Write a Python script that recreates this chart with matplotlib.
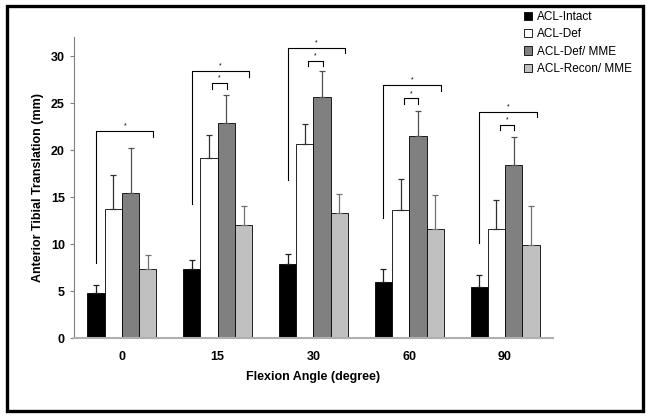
import numpy as np
import matplotlib.pyplot as plt
from matplotlib.patches import Patch, Rectangle

plt.rcParams['font.family'] = ['Liberation Sans', 'DejaVu Sans']

angles = ['0', '15', '30', '60', '90']
groups = ['ACL-Intact', 'ACL-Def', 'ACL-Def/ MME', 'ACL-Recon/ MME']

# mean translation (mm) and upper SD, per group
intact = [4.8, 7.4, 7.9, 6.0, 5.4]
intact_sd = [0.9, 0.9, 1.1, 1.4, 1.3]
deficient = [13.7, 19.2, 20.6, 13.6, 11.6]
deficient_sd = [3.6, 2.4, 2.2, 3.3, 3.1]
def_mme = [15.4, 22.9, 25.6, 21.5, 18.4]
def_mme_sd = [4.8, 3.0, 2.8, 2.7, 3.0]
recon_mme = [7.4, 12.0, 13.3, 11.6, 9.9]
recon_mme_sd = [1.4, 2.0, 2.0, 3.6, 4.1]

# significance brackets
big_top = [22.0, 28.4, 30.9, 26.9, 24.1]
big_left_end = [8.0, 14.3, 16.8, 12.8, 10.1]
small_top = [None, 27.1, 29.5, 25.5, 22.7]

means = [intact, deficient, def_mme, recon_mme]
sds = [intact_sd, deficient_sd, def_mme_sd, recon_mme_sd]
colors = ['black', 'white', '#808080', '#c0c0c0']
err_colors = ['#202020', '#303030', '#505050', '#707070']

fig = plt.figure(figsize=(6.49, 4.18), dpi=100)
ax = fig.add_axes([0.114, 0.191, 0.738, 0.72])

x = np.arange(len(angles)) + 0.5
w = 0.18
for i, (m, s) in enumerate(zip(means, sds)):
    pos = x + (i - 1.5) * w
    ax.bar(pos, m, w, color=colors[i], edgecolor='black', linewidth=0.6,
           yerr=[np.zeros(len(s)), s],
           error_kw=dict(ecolor=err_colors[i], elinewidth=0.9,
                         capsize=2.2, capthick=0.9))

lw = 0.8
for i, c in enumerate(x):
    l, r = c - 0.27, c + 0.33
    ax.plot([l, l, r, r], [big_left_end[i], big_top[i], big_top[i], big_top[i] - 0.6],
            color='black', lw=lw)
    ax.text((l + r) / 2, big_top[i] + 0.15, '*', ha='center', va='bottom', fontsize=5)
    if small_top[i] is not None:
        sl, sr = c - 0.055, c + 0.095
        ax.plot([sl, sl, sr, sr],
                [small_top[i] - 0.6, small_top[i], small_top[i], small_top[i] - 0.6],
                color='black', lw=lw)
        ax.text((sl + sr) / 2, small_top[i] + 0.15, '*', ha='center', va='bottom',
                fontsize=5)

ax.set_xlim(0, 5)
ax.set_ylim(0, 32)
ax.set_xticks(x)
ax.set_xticklabels(angles)
ax.set_yticks([0, 5, 10, 15, 20, 25, 30])
ax.tick_params(axis='x', length=0, pad=9, labelsize=9)
ax.tick_params(axis='y', length=3, width=0.8, color='#808080', pad=3.5, labelsize=9)
for lab in ax.get_xticklabels() + ax.get_yticklabels():
    lab.set_fontweight('bold')
for sp in ['top', 'right']:
    ax.spines[sp].set_visible(False)
ax.spines['left'].set_color('#808080')
ax.spines['left'].set_linewidth(0.8)
ax.spines['bottom'].set_color('#b0b0b0')
ax.spines['bottom'].set_linewidth(1.5)

ax.set_xlabel('Flexion Angle (degree)', fontsize=9, fontweight='bold', labelpad=6)
ax.set_ylabel('Anterior Tibial Translation (mm)', fontsize=9, fontweight='bold', labelpad=5)

handles = [Patch(facecolor=colors[i], edgecolor='black', linewidth=0.6) for i in range(4)]
fig.legend(handles, groups, loc='upper left', bbox_to_anchor=(0.800, 0.985),
           frameon=False, fontsize=8.5, handlelength=0.7, handleheight=0.7,
           handletextpad=0.4, labelspacing=0.45, borderaxespad=0)

fig.patches.append(Rectangle((0.011, 0.016), 0.98, 0.969, transform=fig.transFigure,
                             fill=False, edgecolor='black', linewidth=2.4))

fig.savefig('out.png', dpi=100)
